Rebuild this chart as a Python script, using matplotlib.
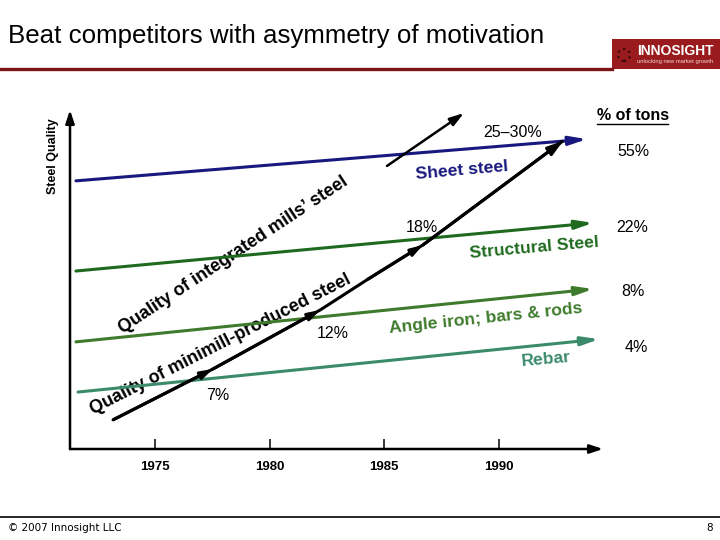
import matplotlib
matplotlib.use("Agg")
import matplotlib.pyplot as plt
from matplotlib.patches import Rectangle, Circle
from matplotlib.lines import Line2D

plt.rcParams["font.family"] = ["Liberation Sans", "DejaVu Sans"]

W, H = 720, 540

# ── data: year on x, relative steel quality on y ────────────────────────────
segments    = ["Sheet steel", "Structural Steel", "Angle iron; bars & rods", "Rebar"]
seg_colors  = ["#18187e", "#1f6a1f", "#3e7b2c", "#3b8b6b"]
seg_x0      = [1971.55, 1971.55, 1971.55, 1971.64]
seg_x1      = [1993.86, 1994.13, 1994.13, 1994.39]
seg_y0      = [7.91, 5.25, 3.16, 1.68]
seg_y1      = [9.14, 6.67, 4.72, 3.24]
seg_lbl_x   = [1988.41, 1991.55, 1989.45, 1992.07]
seg_lbl_y   = [8.23, 5.93, 3.86, 2.65]
seg_lbl_rot = [5, 5, 6, 5]

share       = ["55%", "22%", "8%", "4%"]
share_x     = [1995.87, 1995.83, 1995.87, 1996.00]
share_y     = [8.79, 6.52, 4.66, 2.98]

# minimill quality trajectory
mini_x      = [1973.17, 1977.53, 1982.21, 1984.30, 1986.70, 1992.82]
mini_y      = [0.86, 2.36, 4.10, 5.01, 6.02, 9.09]
mini_heads  = [1, 2, 4, 5]
integ_x     = [1985.13, 1988.49]
integ_y     = [8.35, 9.91]

entry_lbl   = ["25–30%", "18%", "12%", "7%"]
entry_x     = [1990.63, 1986.66, 1982.77, 1977.75]
entry_y     = [9.35, 6.52, 3.42, 1.59]

years       = [1975, 1980, 1985, 1990]


def fx(px):
    return px / W


def fy(py):
    return 1 - py / H


fig = plt.figure(figsize=(7.2, 5.4), dpi=100)
fig.patch.set_facecolor("white")

# ── header / footer ──────────────────────────────────────────────────────────
fig.text(fx(8), fy(43), "Beat competitors with asymmetry of motivation",
         fontsize=18.6, va="baseline", ha="left")
fig.add_artist(Line2D([0, fx(612)], [fy(69), fy(69)], color="#7d1518", lw=2.4))
fig.add_artist(Rectangle((fx(612), fy(69)), fx(108), 30 / H,
                         transform=fig.transFigure, color="#9a1b1e", lw=0))
fig.text(fx(675), fy(51), "INNOSIGHT", color="white", weight="bold",
         fontsize=10, ha="center", va="center")
fig.text(fx(675), fy(61), "unlocking new market growth", color="#f3d6d6",
         fontsize=4.2, ha="center", va="center")
fig.add_artist(Circle((6.24, 5.4 - 0.55), 0.06, transform=fig.dpi_scale_trans,
                      fill=False, ls=":", ec="#3a0808", lw=1.6))

fig.add_artist(Line2D([0, 1], [fy(517), fy(517)], color="black", lw=1.2))
fig.text(fx(8), fy(528), "© 2007 Innosight LLC", fontsize=7.5,
         family="DejaVu Sans", va="center")
fig.text(fx(713), fy(528), "8", fontsize=7.5, family="DejaVu Sans",
         va="center", ha="right")

fig.text(fx(53), fy(156), "Steel Quality", rotation=90, weight="bold",
         fontsize=9, ha="center", va="center")

# ── chart ────────────────────────────────────────────────────────────────────
ax = fig.add_axes([fx(70), fy(449), fx(603) - fx(70), fy(110) - fy(449)])
ax.set_xlim(1971.29, 1994.56)
ax.set_ylim(0, 10)
for sp in ax.spines.values():
    sp.set_visible(False)
ax.set_yticks([])
ax.set_xticks(years)
ax.set_xticklabels([str(y) for y in years], fontweight="bold")
ax.tick_params(axis="x", direction="in", length=7.5, width=1.1, pad=9,
               labelsize=9.5)

AX = dict(arrowstyle="-|>,head_length=0.6,head_width=0.2", color="black",
          lw=1.8, shrinkA=0, shrinkB=0, mutation_scale=13)
ax.annotate("", xy=(1, 0), xytext=(0, 0), xycoords="axes fraction",
            textcoords="axes fraction", arrowprops=AX, annotation_clip=False)
ax.annotate("", xy=(0, 1), xytext=(0, 0), xycoords="axes fraction",
            textcoords="axes fraction", arrowprops=AX, annotation_clip=False)

for name, c, x0, x1, y0, y1, lx, ly, rot in zip(
        segments, seg_colors, seg_x0, seg_x1, seg_y0, seg_y1,
        seg_lbl_x, seg_lbl_y, seg_lbl_rot):
    ax.annotate("", xy=(x1, y1), xytext=(x0, y0),
                arrowprops=dict(arrowstyle="-|>,head_length=0.8,head_width=0.2",
                                color=c, lw=2.2, shrinkA=0, shrinkB=0,
                                mutation_scale=13),
                annotation_clip=False, zorder=3)
    ax.text(lx, ly, name, color=c, fontsize=12.6, weight="bold",
            rotation=rot, rotation_mode="anchor", ha="center", va="center",
            zorder=2)

for lbl, x, y in zip(share, share_x, share_y):
    ax.text(x, y, lbl, fontsize=11.5, ha="center", va="center", clip_on=False)
fig.text(fx(633), fy(115), "% of tons", fontsize=11.5, weight="bold",
         ha="center", va="center")
fig.add_artist(Line2D([fx(597), fx(668)], [fy(124), fy(124)], color="black",
                      lw=1.0))

# minimill trajectory with arrowheads along the way
ax.plot(mini_x, mini_y, color="black", lw=2.2, solid_capstyle="butt", zorder=4)
for i in mini_heads:
    last = i == len(mini_x) - 1
    ax.annotate("", xy=(mini_x[i], mini_y[i]),
                xytext=(mini_x[i - 1], mini_y[i - 1]),
                arrowprops=dict(arrowstyle="-|>,head_length=0.7,head_width=0.22",
                                color="black", lw=2.2, shrinkA=0, shrinkB=0,
                                mutation_scale=13 if last else 10),
                annotation_clip=False, zorder=4)
ax.annotate("", xy=(integ_x[1], integ_y[1]), xytext=(integ_x[0], integ_y[0]),
            arrowprops=dict(arrowstyle="-|>,head_length=0.7,head_width=0.22",
                            color="black", lw=1.8, shrinkA=0, shrinkB=0,
                            mutation_scale=12),
            annotation_clip=False, zorder=4)

for lbl, x, y in zip(entry_lbl, entry_x, entry_y):
    ax.text(x, y, lbl, fontsize=11.5, ha="center", va="center", zorder=5)

ax.text(1978.41, 5.72, "Quality of integrated mills\u2019 steel", fontsize=13,
        weight="bold", rotation=33.5, rotation_mode="anchor", ha="center",
        va="center", zorder=1)
ax.text(1977.84, 3.07, "Quality of minimill-produced steel", fontsize=13,
        weight="bold", rotation=27, rotation_mode="anchor", ha="center",
        va="center", zorder=1)

fig.savefig("out.png", dpi=100)
